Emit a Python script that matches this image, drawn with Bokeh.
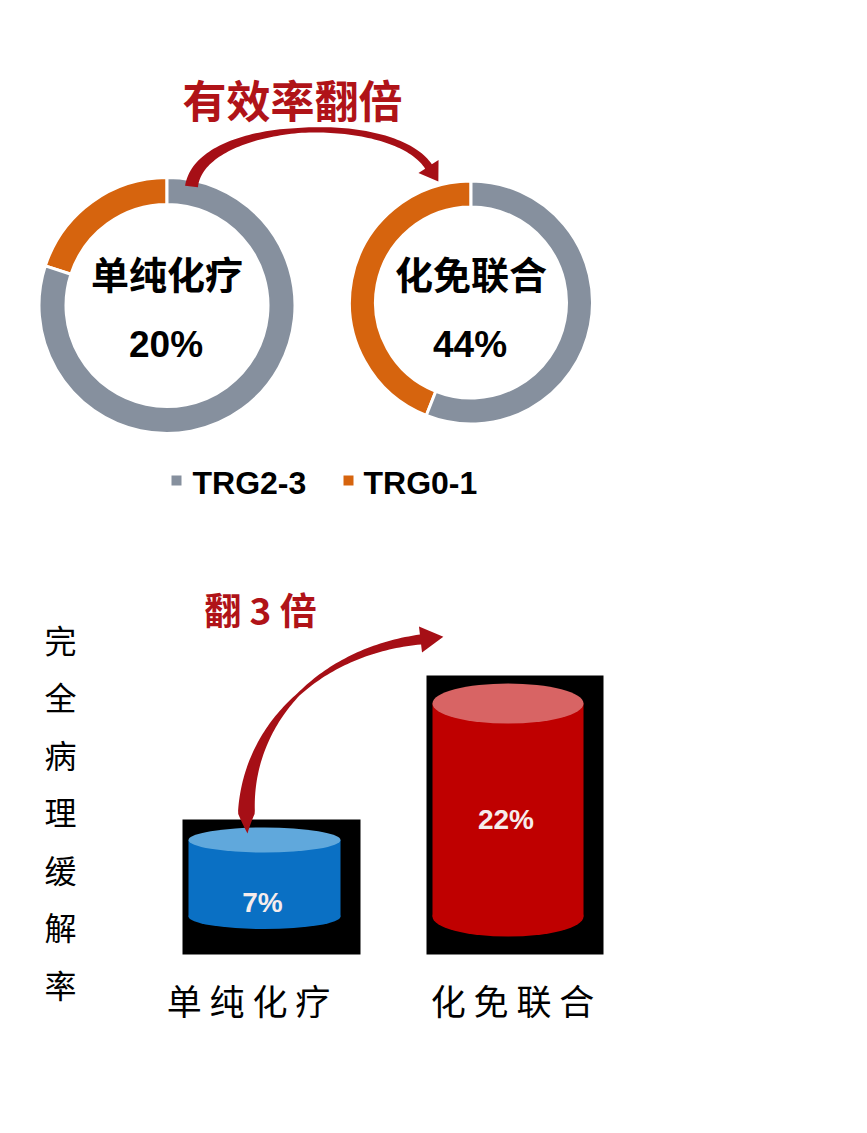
import numpy as np
from bokeh.plotting import figure
from bokeh.models import Range1d
from bokeh.core.properties import value
from bokeh.embed import file_html
from bokeh.resources import INLINE

# ---------------- data ----------------
groups = ["单纯化疗", "化免联合"]
trg01_pct = [20, 44]            # TRG0-1 share (%), remainder TRG2-3
pcr_pct = [7, 22]               # complete pathological response (%)
legend_labels = ["TRG2-3", "TRG0-1"]
top_title = "有效率翻倍"
bottom_title = "翻 3 倍"
y_label = "完全病理缓解率"

# ---------------- style / layout ----------------
W, H = 851, 1112
OFF = 0
CJK = "Noto Sans CJK SC"
LAT = "Liberation Sans"
GRAY = "#86909e"
ORANGE = "#d6640e"
DARKRED = "#b01318"
ARROW = "#a60f16"

donut_cx = [166.5, 470.5]
donut_cy = [305, 302]
donut_ro = [128, 121.5]
donut_ri = [101, 95.5]

cyl_cx = [264, 507.5]
cyl_w = [152, 151]
cyl_hh = [12.5, 20]             # half height of ellipse (px)
cyl_body = ["#0a70c4", "#bf0000"]
cyl_top = ["#60a8dc", "#d86464"]
cyl_label_px = [902, 819]
BAR_ZERO_PX = 903.2
PX_PER_PCT = 9.1
BASE_PX = 916
SHADOW_BOTTOM_PX = 954

p = figure(width=W, height=H, output_backend="svg", toolbar_location=None,
           x_range=Range1d(OFF, OFF + W), y_range=Range1d(OFF + H, OFF),
           x_axis_type=None, y_axis_type=None, min_border=0,
           outline_line_color=None, background_fill_color="white",
           border_fill_color="white")
p.grid.visible = False


# bar value range (percent), mapped onto the same canvas
def px_to_pct(py):
    return (BAR_ZERO_PX - py) / PX_PER_PCT


p.extra_y_ranges = {"pct": Range1d(px_to_pct(OFF + H), px_to_pct(OFF))}

# ---------------- donuts ----------------
for i in range(2):
    frac = trg01_pct[i] / 100.0
    a0 = np.pi / 2
    a1 = a0 + 2 * np.pi * frac
    p.annular_wedge(x=[donut_cx[i]], y=[donut_cy[i]], inner_radius=donut_ri[i],
                    outer_radius=donut_ro[i], start_angle=[a0], end_angle=[a1],
                    direction="anticlock", fill_color=ORANGE,
                    line_color="white", line_width=3)
    p.annular_wedge(x=[donut_cx[i]], y=[donut_cy[i]], inner_radius=donut_ri[i],
                    outer_radius=donut_ro[i], start_angle=[a1], end_angle=[a0 + 2 * np.pi],
                    direction="anticlock", fill_color=GRAY,
                    line_color="white", line_width=3)
    p.text(x=[donut_cx[i]], y=[272], text=[groups[i]], text_font=value(CJK),
           text_font_style="bold", text_font_size="38px", text_color="black",
           text_align="center", text_baseline="middle")
    p.text(x=[donut_cx[i] - 1], y=[344], text=[f"{trg01_pct[i]}%"], text_font=value(LAT),
           text_font_style="bold", text_font_size="37px", text_color="black",
           text_align="center", text_baseline="middle")

p.text(x=[292], y=[98], text=[top_title], text_font=value(CJK), text_font_style="bold",
       text_font_size="44px", text_color=DARKRED, text_align="center", text_baseline="middle")

# legend
p.scatter(x=[176, 348], y=[480, 480], marker="square", size=10,
          fill_color=[GRAY, ORANGE], line_color=None)
p.text(x=[192, 363], y=[482, 482], text=legend_labels, text_font=value(LAT),
       text_font_style="bold", text_font_size="32px", text_color="black",
       text_align="left", text_baseline="middle")


# ---------------- arrows ----------------
def bez(P, t):
    P = np.asarray(P, float)
    t = t[:, None]
    return ((1 - t) ** 3) * P[0] + 3 * ((1 - t) ** 2) * t * P[1] + 3 * (1 - t) * t ** 2 * P[2] + t ** 3 * P[3]


def bez_d(P, t):
    P = np.asarray(P, float)
    t = t[:, None]
    return 3 * ((1 - t) ** 2) * (P[1] - P[0]) + 6 * (1 - t) * t * (P[2] - P[1]) + 3 * t ** 2 * (P[3] - P[2])


def arrow_poly(P, wt, wv, head_len, head_w, n=90):
    t = np.linspace(0, 1, n)
    pts = bez(P, t)
    d = bez_d(P, t)
    d = d / np.linalg.norm(d, axis=1)[:, None]
    nrm = np.stack([-d[:, 1], d[:, 0]], axis=1)
    w = np.interp(t, wt, wv)[:, None]
    left = pts + nrm * w / 2
    right = pts - nrm * w / 2
    e, de, ne = pts[-1], d[-1], nrm[-1]
    tip = e + de * head_len
    bl = e + ne * head_w / 2
    br = e - ne * head_w / 2
    poly = np.vstack([left, bl, tip, br, right[::-1]])
    return poly[:, 0], poly[:, 1]


xs, ys = arrow_poly([(191, 186), (200, 118), (392, 111), (428, 166)],
                    [0, 0.5, 1], [13, 5, 8], 18, 24)
p.patch(xs, ys, fill_color=ARROW, line_color=None)

xs2, ys2 = arrow_poly([(247, 833), (236, 735), (310, 652), (420, 639)],
                      [0, 0.07, 0.55, 1], [0, 17, 3, 10], 23, 26)

# ---------------- cylinders ----------------
base = px_to_pct(BASE_PX)
sh_bottom = px_to_pct(SHADOW_BOTTOM_PX)
for i in range(2):
    v = pcr_pct[i]
    hh = cyl_hh[i] / PX_PER_PCT
    pad = 8 / PX_PER_PCT
    p.quad(left=[cyl_cx[i] - cyl_w[i] / 2 - 6], right=[cyl_cx[i] + cyl_w[i] / 2 + 20],
           bottom=[sh_bottom], top=[v + hh + pad], y_range_name="pct",
           fill_color="black", line_color=None)
    p.ellipse(x=[cyl_cx[i]], y=[base], width=cyl_w[i], height=2 * hh, y_range_name="pct",
              fill_color=cyl_body[i], line_color=None)
    p.vbar(x=[cyl_cx[i]], width=cyl_w[i], bottom=[base], top=[v], y_range_name="pct",
           fill_color=cyl_body[i], line_color=None)
    p.ellipse(x=[cyl_cx[i]], y=[v], width=cyl_w[i], height=2 * hh, y_range_name="pct",
              fill_color=cyl_top[i], line_color=None)
    p.text(x=[cyl_cx[i] - 2], y=[px_to_pct(cyl_label_px[i])], text=[f"{v}%"], y_range_name="pct",
           text_font=value(LAT), text_font_style="bold", text_font_size="28px",
           text_color="#f6ecec", text_align="center", text_baseline="middle")

p.patch(xs2, ys2, fill_color=ARROW, line_color=None)

# category labels
p.text(x=[248, 512], y=[999, 999], text=[" ".join(g) for g in groups],
       text_font=value(CJK), text_font_size="35px", text_color="black",
       text_align="center", text_baseline="middle")

p.text(x=[260], y=[608], text=[bottom_title], text_font=value(CJK), text_font_style="bold",
       text_font_size="37px", text_color=DARKRED, text_align="center", text_baseline="middle")

# vertical y label
p.text(x=[60], y=[615], text=["\n".join(y_label)], text_font=value(CJK),
       text_font_size="32px", text_color="black", text_align="center",
       text_baseline="top", text_line_height=1.25)

open("out.html", "w").write(file_html(p, INLINE))
